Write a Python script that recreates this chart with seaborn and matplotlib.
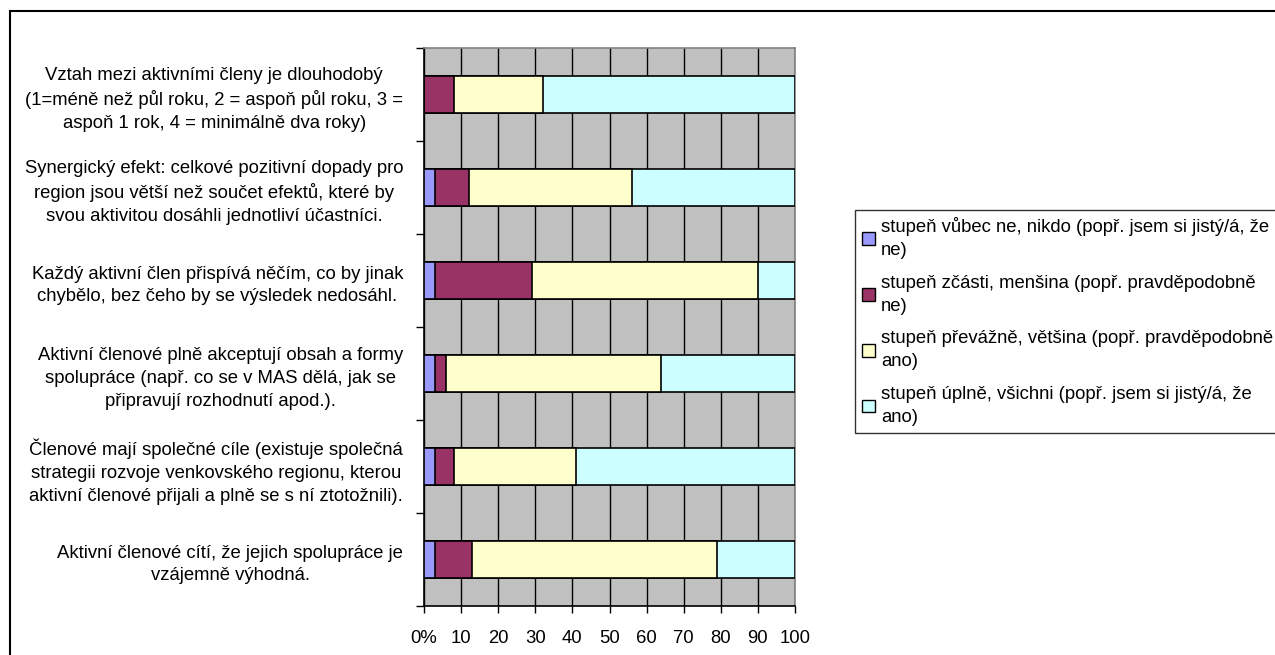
import matplotlib
matplotlib.use("Agg")
import matplotlib.pyplot as plt
import pandas as pd
import seaborn as sns
from matplotlib.patches import Patch, Rectangle
from matplotlib.ticker import FixedLocator

# otázky (shora dolů)
otazky = [
    "Vztah mezi aktivními členy je dlouhodobý\n(1=méně než půl roku, 2 = aspoň půl roku, 3 =\naspoň 1 rok, 4 = minimálně dva roky)",
    "Synergický efekt: celkové pozitivní dopady pro\nregion jsou větší než součet efektů, které by\nsvou aktivitou dosáhli jednotliví účastníci.",
    "Každý aktivní člen přispívá něčím, co by jinak\nchybělo, bez čeho by se výsledek nedosáhl.",
    "Aktivní členové plně akceptují obsah a formy\nspolupráce (např. co se v MAS dělá, jak se\npřipravují rozhodnutí apod.).",
    "Členové mají společné cíle (existuje společná\nstrategii rozvoje venkovského regionu, kterou\naktivní členové přijali a plně se s ní ztotožnili).",
    "Aktivní členové cítí, že jejich spolupráce je\nvzájemně výhodná.",
]

# podíly odpovědí v %
vubec_ne = [0, 3, 3, 3, 3, 3]
zcasti = [8, 9, 26, 3, 5, 10]
prevazne = [24, 44, 61, 58, 33, 66]
uplne = [68, 44, 10, 36, 59, 21]

stupne = [
    "stupeň vůbec ne, nikdo (popř. jsem si jistý/á, že\nne)",
    "stupeň zčásti, menšina (popř. pravděpodobně\nne)",
    "stupeň převážně, většina (popř. pravděpodobně\nano)",
    "stupeň úplně, všichni (popř. jsem si jistý/á, že\nano)",
]
barvy = ["#9999FF", "#993366", "#FFFFCC", "#CCFFFF"]
x_popisky = ["0%", "10", "20", "30", "40", "50", "60", "70", "80", "90", "100"]

FS = 13.3

sns.set_style("white")
plt.rcParams["font.family"] = ["Liberation Sans", "DejaVu Sans"]
plt.rcParams["font.size"] = FS
plt.rcParams["text.color"] = "black"
plt.rcParams["xtick.color"] = "black"
plt.rcParams["ytick.color"] = "black"

df = pd.DataFrame({"otazka": otazky, "s1": vubec_ne, "s2": zcasti,
                   "s3": prevazne, "s4": uplne})
df["c1"] = df["s1"]
df["c2"] = df["c1"] + df["s2"]
df["c3"] = df["c2"] + df["s3"]
df["c4"] = df["c3"] + df["s4"]

fig = plt.figure(figsize=(12.75, 6.55), dpi=100)
ax = fig.add_axes([424 / 1275, 1 - 606 / 655, 371 / 1275, 558 / 655])
ax.set_facecolor("#C0C0C0")

# vrstvené pruhy: nejdelší kumulace dospod
for col, barva in zip(["c4", "c3", "c2", "c1"], barvy[::-1]):
    sns.barplot(data=df, x=col, y="otazka", orient="h", color=barva,
                width=0.4, edgecolor="black", linewidth=1.2, ax=ax,
                saturation=1, zorder=3)

ax.set_xlim(0, 100)
ax.set_ylim(5.5, -0.5)
ax.set_xlabel("")
ax.set_ylabel("")

ax.xaxis.set_major_locator(FixedLocator(list(range(0, 101, 10))))
ax.set_xticklabels(x_popisky)
ax.grid(axis="x", color="black", linewidth=1, zorder=1)
ax.set_axisbelow(True)
ax.tick_params(axis="x", direction="out", length=5, width=1, color="black",
               bottom=True, pad=12, labelsize=FS, labelcolor="black")

ax.yaxis.set_major_locator(FixedLocator(list(range(6))))
ax.set_yticklabels(otazky, multialignment="center", linespacing=1.45)
ax.yaxis.set_minor_locator(FixedLocator([i - 0.5 for i in range(7)]))
ax.tick_params(axis="y", which="major", length=0, pad=15, labelsize=FS,
               labelcolor="black")
ax.tick_params(axis="y", which="minor", direction="out", length=6, width=1,
               color="black", left=True)

for s in ["top", "right"]:
    ax.spines[s].set_color("#808080")
    ax.spines[s].set_linewidth(1.2)
for s in ["left", "bottom"]:
    ax.spines[s].set_color("black")
    ax.spines[s].set_linewidth(1.2)

handles = [Patch(facecolor=b, edgecolor="black", linewidth=1) for b in barvy]
leg = fig.legend(handles, stupne, loc="upper left",
                 bbox_to_anchor=(855 / 1275, 1 - 210 / 655),
                 frameon=True, fancybox=False, edgecolor="black",
                 borderaxespad=0, handlelength=0.7, handleheight=0.7,
                 handletextpad=0.3, labelspacing=0.85, borderpad=0.4,
                 fontsize=FS)
for t in leg.get_texts():
    t.set_linespacing(1.45)
    t.set_color("black")

# rámeček grafu
fig.patches.append(Rectangle((10 / 1275, -0.2), 1.2, 1.2 - 10.5 / 655,
                             transform=fig.transFigure, fill=False,
                             edgecolor="black", linewidth=1.5))

fig.savefig("out.png", dpi=100, facecolor="white")
